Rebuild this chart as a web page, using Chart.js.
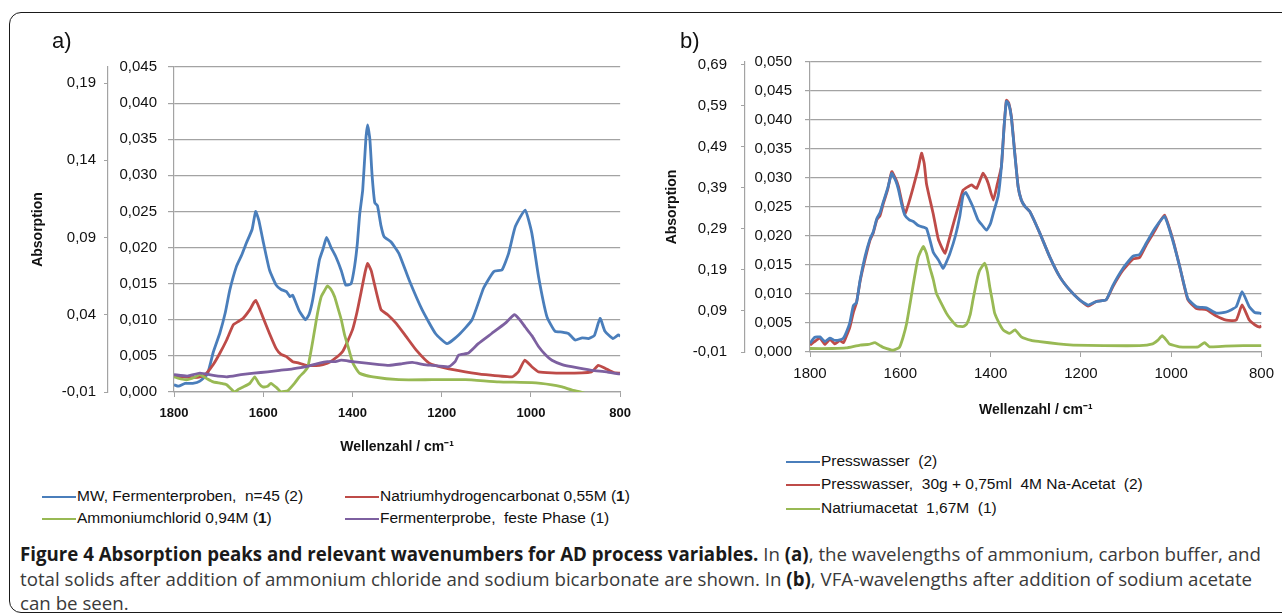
<!DOCTYPE html>
<html>
<head>
<meta charset="utf-8">
<script src="https://cdn.jsdelivr.net/npm/chart.js@4.4.1/dist/chart.umd.min.js"></script>
<style>
  html, body { margin:0; padding:0; background:#fff; }
  body { width:1282px; height:616px; position:relative; overflow:hidden; font-family:"Liberation Sans", Arial, sans-serif; }
  .frame { position:absolute; left:9px; top:12px; width:1300px; height:601px; border:1.6px solid #1a1a1a; border-radius:12px; box-sizing:border-box; }
  canvas { position:absolute; top:0; }
  .panel { position:absolute; font-size:22px; color:#111; }
  .legend { position:absolute; font-size:15.5px; color:#111; white-space:nowrap; line-height:18px; }
  .legend i { display:inline-block; width:34px; height:2px; vertical-align:middle; margin-right:1px; }
  .caption { position:absolute; left:20px; top:542px; font-family:"Open Sans", sans-serif; font-size:18.7px; line-height:24.5px; color:#3a3a3a; white-space:nowrap; }
  .caption b { color:#1a1a1a; }
</style>
</head>
<body>
<div class="frame"></div>
<canvas id="chartA" width="640" height="460" style="left:0"></canvas>
<canvas id="chartB" width="642" height="425" style="left:640px"></canvas>
<div class="panel" style="left:52px; top:28px">a)</div>
<div class="panel" style="left:680px; top:28px">b)</div>

<div class="legend" style="left:42px; top:487px"><i style="background:#4a7ebb"></i>MW, Fermenterproben,&nbsp; n=45 (2)</div>
<div class="legend" style="left:345px; top:487px"><i style="background:#be4b48"></i>Natriumhydrogencarbonat 0,55M (<b>1</b>)</div>
<div class="legend" style="left:42px; top:509px"><i style="background:#98b954"></i>Ammoniumchlorid 0,94M (<b>1</b>)</div>
<div class="legend" style="left:345px; top:509px"><i style="background:#7d60a0"></i>Fermenterprobe,&nbsp; feste Phase (1)</div>

<div class="legend" style="left:786px; top:452px"><i style="background:#4a7ebb"></i>Presswasser&nbsp; (2)</div>
<div class="legend" style="left:786px; top:475px"><i style="background:#be4b48"></i>Presswasser,&nbsp; 30g + 0,75ml&nbsp; 4M Na-Acetat&nbsp; (2)</div>
<div class="legend" style="left:786px; top:499px"><i style="background:#98b954"></i>Natriumacetat&nbsp; 1,67M&nbsp; (1)</div>

<div class="caption"><b>Figure 4 Absorption peaks and relevant wavenumbers for AD process variables.</b> In <b>(a)</b>, the wavelengths of ammonium, carbon buffer, and<br>total solids after addition of ammonium chloride and sodium bicarbonate are shown. In <b>(b)</b>, VFA-wavelengths after addition of sodium acetate<br>can be seen.</div>

<script>
// ---- panel a) ----
const xTicks = [1800, 1600, 1400, 1200, 1000, 800];
const innerTicksA = [0, 0.005, 0.010, 0.015, 0.020, 0.025, 0.030, 0.035, 0.040, 0.045];
const outerTicksA = [-0.01, 0.04, 0.09, 0.14, 0.19];

const mwWn  = [1800,1790,1775,1758,1742,1725,1712,1697,1685,1675,1660,1648,1638,1625,1617,1610,1601,1586,1571,1560,1548,1540,1534,1519,1505,1497,1489,1474,1466,1458,1448,1437,1425,1415,1403,1395,1389,1384,1377,1370,1366,1361,1356,1350,1344,1336,1329,1314,1296,1273,1244,1214,1188,1162,1132,1106,1083,1065,1050,1035,1013,998,983,964,946,930,916,901,885,871,858,845,834,816,804,800];
const mwAbs = [0.0010,0.0008,0.0012,0.0012,0.0015,0.0025,0.0055,0.0082,0.0110,0.0141,0.0174,0.0190,0.0206,0.0225,0.0250,0.0238,0.0211,0.0169,0.0148,0.0142,0.0139,0.0132,0.0134,0.0112,0.0100,0.0108,0.0128,0.0183,0.0198,0.0214,0.0200,0.0187,0.0168,0.0148,0.0150,0.0175,0.0206,0.0245,0.0280,0.0350,0.0370,0.0350,0.0300,0.0262,0.0258,0.0230,0.0215,0.0208,0.0192,0.0155,0.0114,0.0081,0.0067,0.0079,0.0100,0.0144,0.0167,0.0169,0.0192,0.0229,0.0252,0.0220,0.0160,0.0104,0.0084,0.0083,0.0081,0.0072,0.0075,0.0074,0.0078,0.0102,0.0084,0.0074,0.0079,0.0077];

const bicWn  = [1800,1760,1735,1727,1712,1697,1682,1667,1655,1645,1630,1617,1601,1586,1571,1560,1548,1534,1520,1504,1474,1456,1444,1422,1400,1390,1381,1372,1366,1358,1351,1336,1321,1302,1280,1257,1228,1191,1147,1102,1042,1028,1014,998,983,923,864,849,834,815,800];
const bicAbs = [0.0022,0.0020,0.0022,0.0026,0.0038,0.0054,0.0072,0.0093,0.0098,0.0102,0.0114,0.0127,0.0104,0.0081,0.0060,0.0052,0.0049,0.0042,0.0040,0.0037,0.0037,0.0040,0.0044,0.0056,0.0086,0.0110,0.0137,0.0165,0.0178,0.0168,0.0150,0.0114,0.0107,0.0095,0.0077,0.0058,0.0040,0.0033,0.0028,0.0024,0.0021,0.0028,0.0044,0.0035,0.0028,0.0026,0.0028,0.0037,0.0033,0.0027,0.0026];

const nh4Wn  = [1800,1785,1770,1755,1742,1725,1712,1695,1682,1664,1655,1645,1630,1619,1610,1601,1590,1583,1570,1560,1545,1530,1519,1508,1500,1492,1485,1478,1470,1463,1456,1448,1440,1432,1425,1418,1410,1399,1384,1354,1296,1222,1147,1072,998,953,930,909,883,870];
const nh4Abs = [0.0021,0.0018,0.0017,0.0020,0.0024,0.0018,0.0014,0.0012,0.0010,0.0000,0.0004,0.0007,0.0012,0.0021,0.0012,0.0007,0.0008,0.0012,0.0006,0.0000,0.0002,0.0012,0.0021,0.0028,0.0035,0.0060,0.0085,0.0110,0.0132,0.0140,0.0147,0.0142,0.0132,0.0115,0.0100,0.0080,0.0063,0.0040,0.0026,0.0021,0.0017,0.0017,0.0017,0.0014,0.0013,0.0010,0.0007,0.0003,-0.0001,-0.0004];

const festWn  = [1800,1770,1742,1712,1682,1650,1621,1590,1563,1534,1504,1474,1456,1440,1425,1400,1369,1340,1318,1290,1266,1240,1222,1184,1170,1162,1140,1118,1088,1058,1037,1025,1013,998,983,968,953,930,909,864,830,804,800];
const festAbs = [0.0024,0.0022,0.0026,0.0023,0.0021,0.0024,0.0026,0.0028,0.0030,0.0032,0.0035,0.0040,0.0042,0.0042,0.0044,0.0042,0.0040,0.0038,0.0037,0.0039,0.0041,0.0038,0.0037,0.0035,0.0042,0.0051,0.0054,0.0067,0.0081,0.0095,0.0107,0.0100,0.0090,0.0078,0.0063,0.0052,0.0044,0.0038,0.0035,0.0030,0.0028,0.0025,0.0025];

// ---- panel b) ----
const innerTicksB = [0, 0.005, 0.010, 0.015, 0.020, 0.025, 0.030, 0.035, 0.040, 0.045, 0.050];
const outerTicksB = [-0.01, 0.09, 0.19, 0.29, 0.39, 0.49, 0.59, 0.69];

const pwWn  = [1800,1790,1778,1767,1756,1745,1734,1726,1719,1712,1704,1697,1689,1678,1667,1660,1652,1645,1638,1628,1619,1610,1604,1597,1590,1580,1571,1560,1548,1542,1535,1527,1515,1505,1498,1490,1478,1468,1461,1455,1446,1439,1428,1420,1409,1400,1394,1383,1376,1370,1365,1360,1354,1346,1339,1332,1324,1313,1291,1269,1247,1225,1203,1184,1166,1144,1129,1107,1085,1070,1055,1037,1015,996,981,963,944,922,900,878,856,843,827,815,804,800];
const pwAbs = [0.0015,0.0025,0.0026,0.0018,0.0024,0.0020,0.0021,0.0024,0.0035,0.0050,0.0080,0.0085,0.0124,0.0165,0.0195,0.0207,0.0230,0.0240,0.0258,0.0282,0.0308,0.0295,0.0280,0.0255,0.0236,0.0228,0.0225,0.0218,0.0215,0.0213,0.0195,0.0172,0.0158,0.0144,0.0155,0.0170,0.0200,0.0235,0.0270,0.0275,0.0262,0.0250,0.0228,0.0220,0.0210,0.0222,0.0239,0.0270,0.0320,0.0390,0.0432,0.0428,0.0404,0.0338,0.0285,0.0262,0.0251,0.0242,0.0205,0.0164,0.0130,0.0107,0.0090,0.0081,0.0087,0.0090,0.0115,0.0144,0.0165,0.0168,0.0188,0.0212,0.0234,0.0191,0.0147,0.0092,0.0078,0.0076,0.0067,0.0069,0.0078,0.0104,0.0078,0.0068,0.0067,0.0066];

const acWn  = [1800,1790,1778,1767,1756,1745,1734,1726,1719,1712,1704,1697,1689,1678,1667,1660,1652,1645,1638,1628,1619,1610,1604,1597,1590,1582,1571,1560,1553,1547,1542,1535,1527,1516,1508,1501,1495,1488,1480,1470,1461,1450,1442,1431,1417,1410,1405,1394,1385,1376,1370,1365,1360,1354,1346,1339,1332,1324,1313,1291,1269,1247,1225,1203,1184,1166,1144,1129,1107,1085,1070,1055,1037,1015,996,981,963,944,922,900,878,856,843,827,815,804,800];
const acAbs = [0.0012,0.0018,0.0024,0.0013,0.0022,0.0014,0.0020,0.0016,0.0028,0.0042,0.0068,0.0085,0.0122,0.0160,0.0193,0.0205,0.0228,0.0235,0.0255,0.0280,0.0311,0.0298,0.0285,0.0260,0.0238,0.0255,0.0285,0.0318,0.0343,0.0325,0.0290,0.0265,0.0238,0.0195,0.0180,0.0170,0.0185,0.0205,0.0228,0.0255,0.0279,0.0285,0.0288,0.0282,0.0308,0.0300,0.0290,0.0262,0.0290,0.0320,0.0390,0.0434,0.0430,0.0406,0.0340,0.0285,0.0262,0.0251,0.0242,0.0205,0.0164,0.0130,0.0107,0.0090,0.0079,0.0087,0.0090,0.0113,0.0141,0.0160,0.0163,0.0185,0.0208,0.0236,0.0193,0.0147,0.0090,0.0075,0.0073,0.0062,0.0055,0.0055,0.0081,0.0055,0.0047,0.0043,0.0045];

const naWn  = [1800,1750,1720,1689,1670,1656,1645,1638,1616,1602,1594,1586,1578,1571,1565,1560,1549,1542,1535,1527,1520,1510,1498,1490,1475,1460,1453,1445,1439,1430,1424,1413,1407,1402,1396,1391,1380,1372,1358,1346,1332,1310,1291,1250,1217,1150,1070,1041,1030,1020,1010,1004,982,940,926,915,880,840,800];
const naAbs = [0.0006,0.0006,0.0007,0.0012,0.0013,0.0016,0.0011,0.0008,0.0003,0.0008,0.0025,0.0049,0.0085,0.0118,0.0145,0.0164,0.0182,0.0170,0.0147,0.0125,0.0101,0.0085,0.0067,0.0058,0.0045,0.0044,0.0048,0.0065,0.0090,0.0125,0.0141,0.0153,0.0138,0.0113,0.0088,0.0067,0.0048,0.0038,0.0032,0.0038,0.0026,0.0020,0.0018,0.0014,0.0012,0.0011,0.0011,0.0014,0.0020,0.0028,0.0020,0.0014,0.0009,0.0009,0.0016,0.0009,0.0010,0.0011,0.0011];

Chart.defaults.font.family = '"Liberation Sans", Arial, sans-serif';
Chart.defaults.color = '#111';

const gridGrey = '#a3a3a3';
const pts = (xs, ys) => xs.map((x, i) => ({x, y: ys[i]}));
const line = (label, xs, ys, color) => ({label, data: pts(xs, ys), borderColor: color, backgroundColor: color, borderWidth: 2.8, pointRadius: 0, tension: 0.15, fill: false});
const comma = d => v => v.toFixed(d).replace('.', ',');

function makeScales(cfg){
  return {
    x: {
      type: 'linear', reverse: true, min: 800, max: 1800,
      afterBuildTicks: s => { s.ticks = xTicks.map(v => ({value: v})); },
      ticks: {callback: v => String(v), color: '#111', font: cfg.xFont, padding: cfg.xPad, maxRotation: 0},
      grid: {drawOnChartArea: false, tickLength: 5, color: gridGrey},
      border: {color: gridGrey, width: 1.2},
      title: {display: true, text: 'Wellenzahl / cm⁻¹', color: '#111', font: {size: 14, weight: 'bold'}, padding: {top: 0, bottom: cfg.titlePad}},
      afterFit: s => { s.height = cfg.xHeight; }
    },
    y: {
      position: 'left', weight: 0, min: 0, max: cfg.innerMax,
      afterBuildTicks: s => { s.ticks = cfg.innerTicks.map(v => ({value: v})); },
      ticks: {callback: comma(3), color: '#111', font: {size: 15}, padding: cfg.innerPad},
      grid: {color: gridGrey, lineWidth: 1.2, tickLength: cfg.gridTick},
      border: {color: gridGrey, width: 1.2},
      afterFit: s => { s.width = cfg.innerWidth; }
    },
    y2: {
      position: 'left', weight: 1, min: -0.01, max: cfg.outerMax,
      afterBuildTicks: s => { s.ticks = cfg.outerTicks.map(v => ({value: v})); },
      ticks: {callback: comma(2), color: '#111', font: {size: 15}, padding: cfg.outerPad},
      grid: {drawOnChartArea: false, color: gridGrey, tickLength: 4},
      border: {color: gridGrey, width: 1.2},
      title: {display: true, text: 'Absorption', color: '#111', font: {size: 14, weight: 'bold'}, padding: {top: cfg.yTitlePad, bottom: 0}},
      afterFit: s => { s.width = cfg.outerWidth; }
    }
  };
}

const baseOptions = (pad, scales) => ({
  responsive: false, animation: false,
  layout: {padding: pad},
  plugins: {legend: {display: false}, tooltip: {enabled: false}},
  scales
});

new Chart(document.getElementById('chartA'), {
  type: 'line',
  data: {datasets: [
    line('Fermenterprobe, feste Phase (1)', festWn, festAbs, '#7d60a0'),
    line('Ammoniumchlorid 0,94M (1)', nh4Wn, nh4Abs, '#98b954'),
    line('Natriumhydrogencarbonat 0,55M (1)', bicWn, bicAbs, '#be4b48'),
    line('MW, Fermenterproben, n=45 (2)', mwWn, mwAbs, '#4a7ebb')
  ]},
  options: baseOptions({top: 67, right: 18, bottom: 0, left: 0}, makeScales({
    xFont: {size: 13, weight: 'bold'}, xPad: 9, titlePad: 4, xHeight: 68,
    innerMax: 0.045, innerTicks: innerTicksA, innerPad: 11, gridTick: 6, innerWidth: 66,
    outerMax: 0.2004, outerTicks: outerTicksA, outerPad: 8, yTitlePad: 30, outerWidth: 108
  }))
});

new Chart(document.getElementById('chartB'), {
  type: 'line',
  data: {datasets: [
    line('Natriumacetat 1,67M (1)', naWn, naAbs, '#98b954'),
    line('Presswasser (2)', pwWn, pwAbs, '#4a7ebb'),
    line('Presswasser, 30g + 0,75ml 4M Na-Acetat (2)', acWn, acAbs, '#be4b48')
  ]},
  options: baseOptions({top: 62, right: 20, bottom: 0, left: 0}, makeScales({
    xFont: {size: 15}, xPad: 8, titlePad: 6, xHeight: 73,
    innerMax: 0.050, innerTicks: innerTicksB, innerPad: 13, gridTick: 5, innerWidth: 65,
    outerMax: 0.697, outerTicks: outerTicksB, outerPad: 14, yTitlePad: 24, outerWidth: 105
  }))
});
</script>
</body>
</html>
